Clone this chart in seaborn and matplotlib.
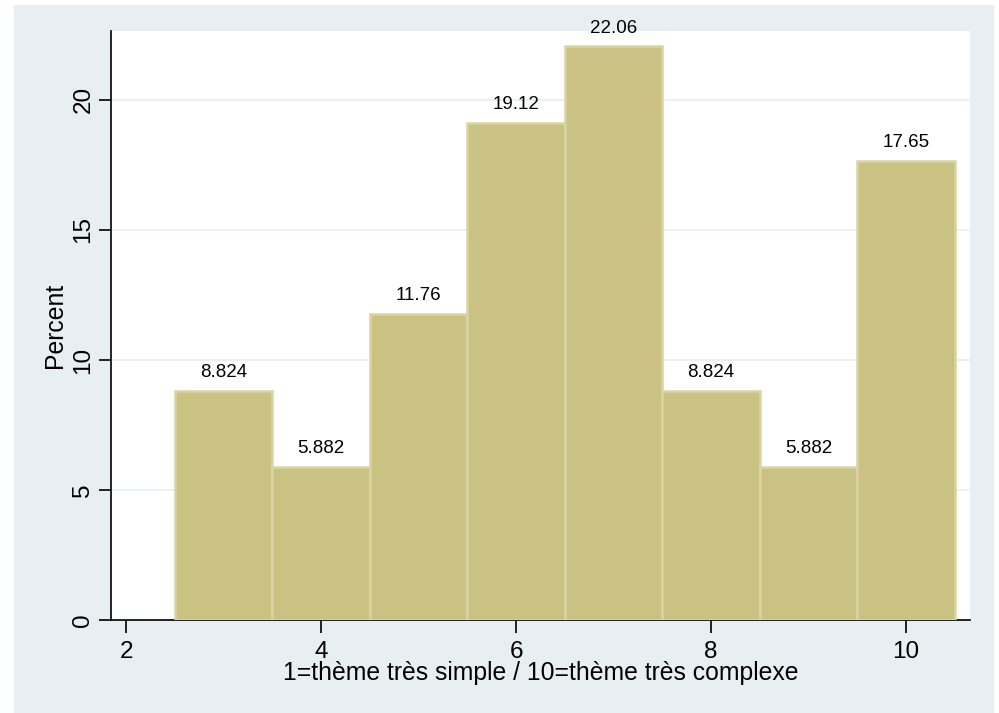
import matplotlib
matplotlib.use("Agg")
import matplotlib.pyplot as plt
import seaborn as sns
from matplotlib.patches import Rectangle

# Données
notes = [3, 4, 5, 6, 7, 8, 9, 10]
pourcent = [8.824, 5.882, 11.76, 19.12, 22.06, 8.824, 5.882, 17.65]
yticks = [0, 5, 10, 15, 20]
xticks = [2, 4, 6, 8, 10]

sns.set_style("white")
plt.rcParams['font.family'] = ['Liberation Sans', 'DejaVu Sans']
plt.rcParams['text.color'] = 'black'
plt.rcParams['axes.labelcolor'] = 'black'

fig = plt.figure(figsize=(9.99, 7.13), dpi=100)
fig.patch.set_facecolor("white")
# fond gris-bleu façon Stata
fig.patches.append(Rectangle((14 / 999, 0), 980 / 999, 1 - 5 / 713,
                             transform=fig.transFigure, facecolor="#E8EFF2",
                             edgecolor="none", zorder=-10))

ax = fig.add_axes([111 / 999, 1 - 620 / 713, 859 / 999, 589 / 713])
ax.set_facecolor("white")

sns.histplot(x=notes, weights=pourcent, discrete=True, stat="percent",
             color="#CAC282", edgecolor="#D9D4A2", linewidth=1.8, alpha=1,
             ax=ax, zorder=3)

ax.bar_label(ax.containers[0], fmt="%.4g", padding=7, fontsize=13.5,
             color="black")

ax.set_xlim(1.846, 10.656)
ax.set_ylim(0, 22.65)
ax.set_xticks(xticks)
ax.set_yticks(yticks)
ax.set_yticklabels([str(t) for t in yticks], rotation=90, va="center")
ax.grid(axis="y", color="#E6EFF1", linewidth=1.2, zorder=0)
ax.set_axisbelow(True)

for s in ["top", "right"]:
    ax.spines[s].set_visible(False)
for s in ["left", "bottom"]:
    ax.spines[s].set_color("black")
    ax.spines[s].set_linewidth(1.2)

ax.tick_params(axis="x", direction="out", length=9, width=1.2,
               labelsize=17.5, colors="black", pad=6, bottom=True)
ax.tick_params(axis="y", direction="out", length=9, width=1.2,
               labelsize=17.5, colors="black", pad=3, left=True)

ax.set_xlabel("1=thème très simple / 10=thème très complexe", fontsize=17.8,
              labelpad=-1)
ax.set_ylabel("Percent", fontsize=17.8, labelpad=4)

fig.savefig("out.png", dpi=100, facecolor=fig.get_facecolor())
